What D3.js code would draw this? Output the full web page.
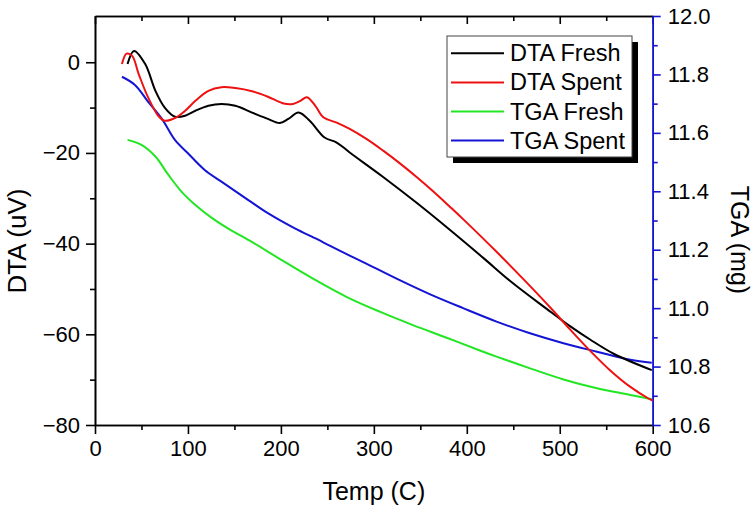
<!DOCTYPE html>
<html><head><meta charset="utf-8">
<script src="https://cdn.jsdelivr.net/npm/d3@7"></script>
<style>
html,body{margin:0;padding:0;background:#fff;}
text{font-family:"Liberation Sans",Arial,sans-serif;fill:#000;}
</style></head>
<body><svg id="c" width="756" height="513"></svg>
<script>
// ---- data ----
const dtaFreshT = [35,42,54,65,75,86,97,108,122,136,151,169,186,199,208,219,231,247,260,274,310,346,382,418,447,486,511,533,559,599];
const dtaFreshV = [-0.4,2.5,-0.4,-6.3,-10.0,-12.0,-11.8,-10.7,-9.6,-9.2,-9.6,-11.1,-12.5,-13.4,-12.5,-11.1,-12.9,-16.6,-17.7,-19.9,-25.3,-31.0,-37.0,-43.2,-48.3,-54.4,-58.2,-61.2,-64.4,-67.9];
const dtaSpentT = [29,34,40,47,57,68,75,86,97,108,122,136,151,169,186,203,213,221,228,237,246,260,274,292,310,328,346,364,382,396,432,464,493,511,533,554,576,595,600];
const dtaSpentV = [-0.4,1.9,1.4,-2.6,-7.7,-11.8,-12.9,-12.3,-10.7,-8.5,-6.3,-5.5,-5.7,-6.4,-7.6,-9.1,-9.2,-8.5,-7.7,-9.6,-12.2,-13.3,-14.7,-16.9,-19.5,-22.3,-25.3,-28.5,-31.9,-34.6,-41.8,-48.5,-54.8,-58.9,-63.7,-67.9,-71.6,-74.1,-74.6];
const tgaFreshT = [35,50,65,79,93,108,126,143,167,199,235,271,307,342,379,414,432,468,504,540,576,599];
const tgaFreshM = [11.576,11.559,11.519,11.456,11.399,11.353,11.308,11.273,11.230,11.168,11.100,11.038,10.987,10.942,10.898,10.855,10.834,10.794,10.756,10.726,10.703,10.688];
const tgaSpentT = [29,43,57,72,86,100,118,136,165,186,215,239,253,274,289,325,360,396,432,468,504,540,576,599];
const tgaSpentM = [11.792,11.764,11.707,11.648,11.576,11.530,11.473,11.433,11.370,11.325,11.273,11.236,11.213,11.180,11.157,11.100,11.048,11.000,10.954,10.914,10.880,10.851,10.823,10.813];
const xTicks = [0,100,200,300,400,500,600];
const yLeftTicks = [-80,-60,-40,-20,0];
const yRightTicks = [10.6,10.8,11.0,11.2,11.4,11.6,11.8,12.0];
const seriesNames = ["DTA Fresh","DTA Spent","TGA Fresh","TGA Spent"];
const seriesColors = ["#000000","#ee1111","#22e622","#1414d4"];

// ---- layout ----
const L = 95, R = 652.7, T = 16, B = 425;
const svg = d3.select("#c");
const x = d3.scaleLinear().domain([0,600]).range([L,R]);
const yL = d3.scaleLinear().domain([-80,10.2]).range([B,T]);
const yR = d3.scaleLinear().domain([10.6,12.0]).range([B,T]);
const FS = 22;

function style(g, color){
  g.selectAll("path,line").attr("stroke", color).attr("stroke-width", 1.6);
  g.selectAll("text").attr("font-size", FS).attr("fill","#000")
    .style("font-family","'Liberation Sans',Arial,sans-serif");
}

// minor ticks
const xMinor = d3.range(50,600,100);
const yLMinor = [-70,-50,-30,-10];
const yRMinor = [10.7,10.9,11.1,11.3,11.5,11.7,11.9];

// bottom axis
svg.append("g").attr("transform",`translate(0,${B})`)
  .call(d3.axisBottom(x).tickValues(xMinor).tickSize(5).tickSizeOuter(0).tickFormat(""))
  .call(g=>style(g,"#000"));
svg.append("g").attr("transform",`translate(0,${B})`)
  .call(d3.axisBottom(x).tickValues(xTicks).tickSize(9).tickSizeOuter(0).tickPadding(6).tickFormat(d3.format("d")))
  .call(g=>style(g,"#000"));
// top axis (inward ticks)
svg.append("g").attr("transform",`translate(0,${T})`)
  .call(d3.axisTop(x).tickValues(xMinor).tickSize(-5).tickSizeOuter(0).tickFormat(""))
  .call(g=>style(g,"#000"));
svg.append("g").attr("transform",`translate(0,${T})`)
  .call(d3.axisTop(x).tickValues(xTicks).tickSize(-8).tickSizeOuter(0).tickFormat(""))
  .call(g=>style(g,"#000"));
// left axis
svg.append("g").attr("transform",`translate(${L},0)`)
  .call(d3.axisLeft(yL).tickValues(yLMinor).tickSize(5).tickSizeOuter(0).tickFormat(""))
  .call(g=>style(g,"#000"));
svg.append("g").attr("transform",`translate(${L},0)`)
  .call(d3.axisLeft(yL).tickValues(yLeftTicks).tickSize(9).tickSizeOuter(0).tickPadding(6).tickFormat(d3.format("d")))
  .call(g=>style(g,"#000"));
// right axis (blue)
svg.append("g").attr("transform",`translate(${R},0)`)
  .call(d3.axisRight(yR).tickValues(yRMinor).tickSize(5).tickSizeOuter(0).tickFormat(""))
  .call(g=>style(g,"#1414d4"));
svg.append("g").attr("transform",`translate(${R},0)`)
  .call(d3.axisRight(yR).tickValues(yRightTicks).tickSize(8).tickSizeOuter(0).tickPadding(7).tickFormat(d3.format(".1f")))
  .call(g=>style(g,"#1414d4"));

// axis titles
svg.append("text").attr("x",(L+R)/2).attr("y",500).attr("text-anchor","middle")
  .attr("font-size",25).text("Temp (C)");
svg.append("text").attr("transform","translate(26,241) rotate(-90)").attr("text-anchor","middle")
  .attr("font-size",26).text("DTA (uV)");
svg.append("text").attr("transform","translate(731,240) rotate(90)").attr("text-anchor","middle")
  .attr("font-size",25).text("TGA (mg)");

// lines
const lineL = d3.line().x(d=>x(d[0])).y(d=>yL(d[1])).curve(d3.curveCatmullRom.alpha(0.5));
const lineR = d3.line().x(d=>x(d[0])).y(d=>yR(d[1])).curve(d3.curveCatmullRom.alpha(0.5));
const zip = (a,b)=>a.map((v,i)=>[v,b[i]]);
const plot = svg.append("g");
plot.append("path").datum(zip(tgaFreshT,tgaFreshM)).attr("d",lineR).attr("fill","none").attr("stroke",seriesColors[2]).attr("stroke-width",2);
plot.append("path").datum(zip(tgaSpentT,tgaSpentM)).attr("d",lineR).attr("fill","none").attr("stroke",seriesColors[3]).attr("stroke-width",2);
plot.append("path").datum(zip(dtaFreshT,dtaFreshV)).attr("d",lineL).attr("fill","none").attr("stroke",seriesColors[0]).attr("stroke-width",2);
plot.append("path").datum(zip(dtaSpentT,dtaSpentV)).attr("d",lineL).attr("fill","none").attr("stroke",seriesColors[1]).attr("stroke-width",2);

// legend
const lg = svg.append("g");
lg.append("rect").attr("x",453).attr("y",42).attr("width",185).attr("height",121).attr("fill","#000");
lg.append("rect").attr("x",447).attr("y",36).attr("width",185).attr("height",121).attr("fill","#fff").attr("stroke","#444").attr("stroke-width",1);
seriesNames.forEach((n,i)=>{
  const yy = 53.3 + i*29.1;
  lg.append("line").attr("x1",451).attr("x2",504).attr("y1",yy).attr("y2",yy).attr("stroke",seriesColors[i]).attr("stroke-width",2);
  lg.append("text").attr("x",510).attr("y",yy+8).attr("font-size",23.5).text(n);
});
</script></body></html>
